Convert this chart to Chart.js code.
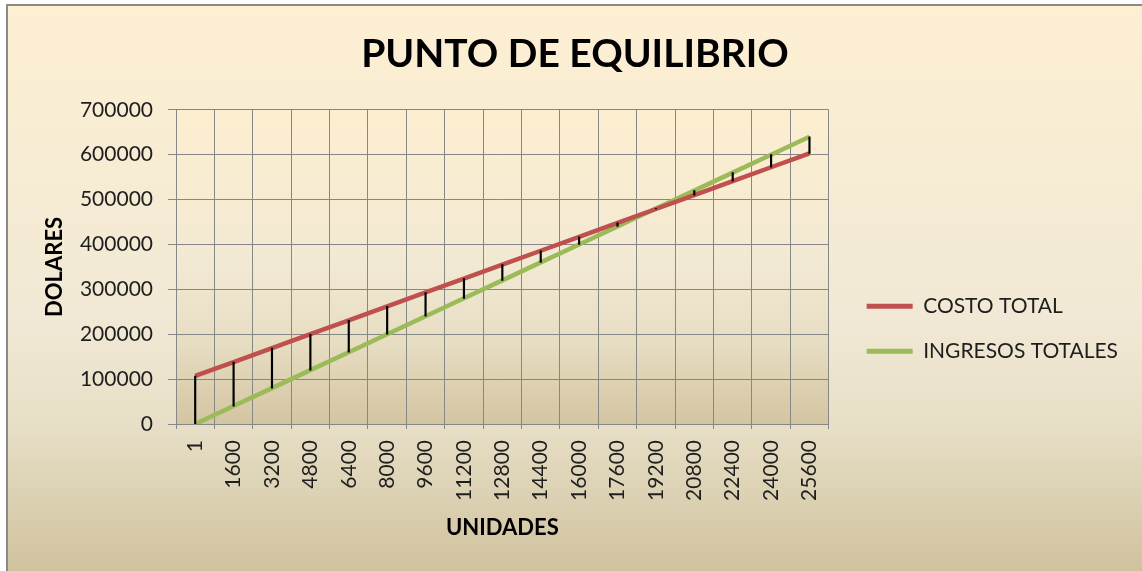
<!DOCTYPE html>
<html>
<head>
<meta charset="utf-8">
<script src="https://cdn.jsdelivr.net/npm/chart.js@4/dist/chart.umd.min.js"></script>
<style>
  html, body { margin: 0; padding: 0; background: #fff; }
  #wrap { width: 1142px; height: 571px; }
</style>
</head>
<body>
<div id="wrap"><canvas id="equilibrio"></canvas></div>
<script>
// data
const unidades = ["1", "1600", "3200", "4800", "6400", "8000", "9600", "11200", "12800",
  "14400", "16000", "17600", "19200", "20800", "22400", "24000", "25600"];
const costoTotal = [107000, 138000, 169000, 200000, 231000, 262000, 293000, 324000, 355000,
  386000, 417000, 448000, 479000, 510000, 541000, 572000, 603000];
const ingresosTotales = [25, 40000, 80000, 120000, 160000, 200000, 240000, 280000, 320000,
  360000, 400000, 440000, 480000, 520000, 560000, 600000, 640000];
const yMax = 700000;
const yStep = 100000;

const FONT = "Lato, 'Noto Sans', sans-serif";
const GRID = "#878787";
const TEXT = "#1e1e1e";

// background: parchment gradient for the chart and the plot area
const fondo = {
  id: "fondo",
  beforeDraw(chart) {
    const { ctx, width, height, chartArea: a } = chart;
    ctx.save();
    ctx.fillStyle = "#ffffff";
    ctx.fillRect(0, 0, width, height);
    let g = ctx.createLinearGradient(0, 5, 0, height);
    g.addColorStop(0, "#fdefd2");
    g.addColorStop(0.55, "#f1e9d5");
    g.addColorStop(0.75, "#e6dec5");
    g.addColorStop(1, "#d0c29e");
    ctx.fillStyle = g;
    ctx.fillRect(7, 5, width - 7, height - 5);
    g = ctx.createLinearGradient(0, a.top, 0, a.bottom);
    g.addColorStop(0, "#fdeecf");
    g.addColorStop(0.5, "#f2e9d3");
    g.addColorStop(0.75, "#e6dcc1");
    g.addColorStop(1, "#d4c5a1");
    ctx.fillStyle = g;
    ctx.fillRect(a.left, a.top, a.right - a.left, a.bottom - a.top);
    ctx.strokeStyle = "#8a8a8a";
    ctx.lineWidth = 2;
    ctx.beginPath();
    ctx.moveTo(7, height);
    ctx.lineTo(7, 5);
    ctx.lineTo(width, 5);
    ctx.stroke();
    ctx.restore();
  }
};

new Chart(document.getElementById("equilibrio"), {
  type: "line",
  data: {
    labels: unidades,
    datasets: [
      {
        type: "bar",
        label: "diferencia",
        data: unidades.map((_, i) => [ingresosTotales[i], costoTotal[i]]),
        backgroundColor: "#000000",
        barThickness: 1.5,
        order: 0
      },
      {
        label: "COSTO TOTAL",
        data: costoTotal,
        borderColor: "#c0504d",
        backgroundColor: "#c0504d",
        borderWidth: 4.5,
        pointRadius: 0,
        tension: 0,
        order: 1
      },
      {
        label: "INGRESOS TOTALES",
        data: ingresosTotales,
        borderColor: "#9bbb59",
        backgroundColor: "#9bbb59",
        borderWidth: 4.5,
        pointRadius: 0,
        tension: 0,
        order: 2
      }
    ]
  },
  options: {
    responsive: true,
    maintainAspectRatio: false,
    animation: false,
    layout: { padding: { left: 22, top: 0, right: 14, bottom: 0 } },
    plugins: {
      tooltip: { enabled: false },
      title: {
        display: true,
        text: "PUNTO DE EQUILIBRIO",
        color: "#000000",
        font: { family: FONT, size: 39, weight: "bold" },
        padding: { top: 31, bottom: 32 }
      },
      legend: {
        position: "right",
        maxWidth: 400,
        title: { display: true, text: " ", font: { size: 12 }, padding: { top: 36, bottom: 36 } },
        labels: {
          color: TEXT,
          font: { family: FONT, size: 21 },
          boxWidth: 46,
          boxHeight: 5,
          padding: 24,
          generateLabels(chart) {
            return Chart.defaults.plugins.legend.labels.generateLabels(chart)
              .filter(l => l.datasetIndex > 0)
              .map(l => ({ ...l, lineWidth: 0 }));
          }
        }
      }
    },
    scales: {
      x: {
        offset: true,
        grid: { offset: true, color: GRID, lineWidth: 1, tickLength: 5 },
        border: { color: GRID },
        ticks: {
          color: TEXT,
          font: { family: FONT, size: 21 },
          autoSkip: false,
          maxRotation: 90,
          minRotation: 90,
          padding: 11
        },
        title: {
          display: true,
          text: "UNIDADES",
          color: "#000000",
          font: { family: FONT, size: 22, weight: "bold" },
          padding: { top: 0, bottom: 30 }
        },
        afterFit(s) { s.height = 147; }
      },
      y: {
        min: 0,
        max: yMax,
        grid: { color: GRID, lineWidth: 1, tickLength: 8 },
        border: { color: GRID },
        ticks: {
          stepSize: yStep,
          color: TEXT,
          font: { family: FONT, size: 21 },
          padding: 15,
          callback: v => String(v)
        },
        title: {
          display: true,
          text: "DOLARES",
          color: "#000000",
          font: { family: FONT, size: 22, weight: "bold" },
          padding: { top: 20, bottom: 0 }
        },
        afterFit(s) { s.width = 154; }
      },
      yPad: {
        type: "linear",
        position: "right",
        display: true,
        grid: { display: false, drawTicks: false },
        border: { display: false },
        ticks: { display: false },
        afterFit(s) { s.width = 14; }
      }
    }
  },
  plugins: [fondo]
});
</script>
</body>
</html>
